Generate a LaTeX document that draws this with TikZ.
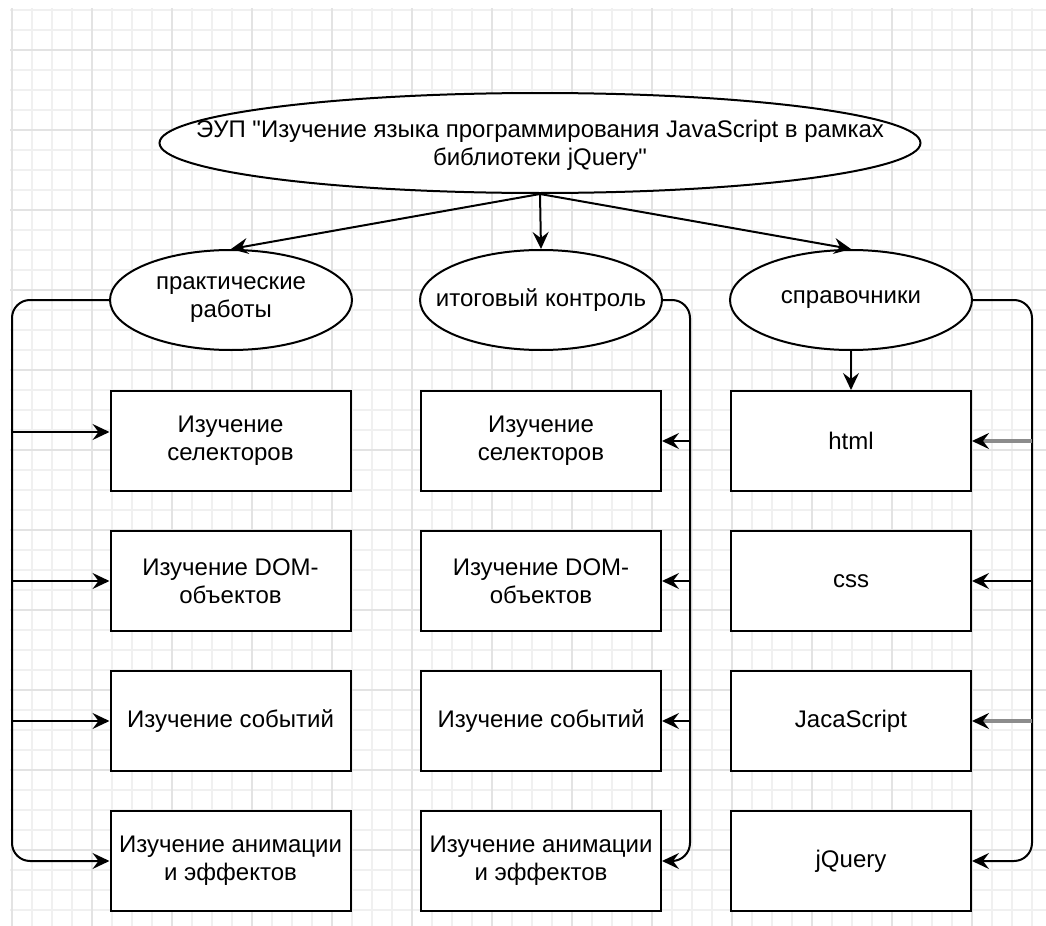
\documentclass[tikz,border=0pt]{standalone}
\usepackage{fontspec}
\setmainfont{Liberation Sans}[Ligatures=TeXOff]
\usetikzlibrary{shapes.geometric,arrows.meta}

\tikzset{
  ell/.style={draw, ellipse, line width=1pt, fill=white, inner sep=0pt,
    minimum width=121pt, minimum height=50pt},
  topell/.style={ell, minimum width=380.5pt},
  txt/.style={align=center, inner sep=0pt, font=\fontsize{12}{14}\selectfont},
  box/.style={draw, rectangle, line width=1pt, fill=white, align=center,
    minimum width=120pt, minimum height=50pt, font=\fontsize{12}{14}\selectfont},
  conn/.style={line width=1pt, -{Stealth[length=8.5pt,width=8pt,inset=3pt]}},
  greyconn/.style={draw=black!45, line width=1.6pt,
    -{Stealth[length=8.5pt,width=8pt,inset=3pt,color=black]}},
  bus/.style={conn, rounded corners=9pt},
  gridminor/.style={black!6, line width=0.6pt},
  gridmajor/.style={black!11, line width=0.6pt},
}

\begin{document}
\begin{tikzpicture}[x=0.5pt, y=-0.5pt]
  \useasboundingbox (0,0) rectangle (1046,926);

  % background grid
  \foreach \gx in {12,32,...,1046} \draw[gridminor] (\gx,8) -- (\gx,926);
  \foreach \gy in {10,30,...,926} \draw[gridminor] (10,\gy) -- (1046,\gy);
  \foreach \gx in {12,92,...,1046} \draw[gridmajor] (\gx,8) -- (\gx,926);
  \foreach \gy in {50,130,...,926} \draw[gridmajor] (10,\gy) -- (1046,\gy);

  % top ellipse
  \node[topell] (eup) at (540,143) {};
  \node[txt] (eupt) at (540,145) {ЭУП "Изучение языка программирования JavaScript в рамках\\библиотеки jQuery"};

  % second row
  \node[ell] (prak) at (231,300) {};
  \node[txt] (prakt) at (prak) {практические\\работы};
  \node[ell] (itog) at (541,300) {};
  \node[txt] (itogt) at (itog) {итоговый контроль};
  \node[ell] (sprav) at (851,300) {};
  \node[txt] (spravt) at (sprav) {справочники};

  \draw[conn] (eup.south) -- (prak.north);
  \draw[conn] (eup.south) -- (itog.north);
  \draw[conn] (eup.south) -- (sprav.north);

  % columns of boxes
  \foreach \txt [count=\i] in {{Изучение\\селекторов},{Изучение DOM-\\объектов},
      {Изучение событий},{Изучение анимации\\и эффектов}}
  {
    \pgfmathsetmacro{\y}{301+140*\i}
    \node[box] (p\i) at (230.5,\y) {\txt};
    \node[box] (k\i) at (541,\y) {\txt};
  }
  \foreach \txt [count=\i] in {html,css,JacaScript,jQuery}
  {
    \pgfmathsetmacro{\y}{301+140*\i}
    \node[box] (s\i) at (851,\y) {\txt};
  }

  % bus lines
  \coordinate (lbus) at (12,300);
  \coordinate (mbus) at (690,300);
  \coordinate (rbus) at (1032,300);

  \draw[bus] (prak.west) -- (lbus) |- (p4.west);
  \draw[conn] (12,432) -- (p1.west |- 0,432);
  \draw[conn] (lbus |- p2.west) -- (p2.west);
  \draw[conn] (lbus |- p3.west) -- (p3.west);

  \draw[bus] (itog.east) -- (mbus) |- (k4.east);
  \foreach \i in {1,2,3}
    \draw[conn] (mbus |- k\i.east) -- (k\i.east);

  \draw[bus] (sprav.east) -- (rbus) |- (s4.east);
  \draw[greyconn] (rbus |- s1.east) -- (s1.east);
  \draw[conn] (rbus |- s2.east) -- (s2.east);
  \draw[greyconn] (rbus |- s3.east) -- (s3.east);

  \draw[conn] (sprav.south) -- (s1.north);
\end{tikzpicture}
\end{document}
